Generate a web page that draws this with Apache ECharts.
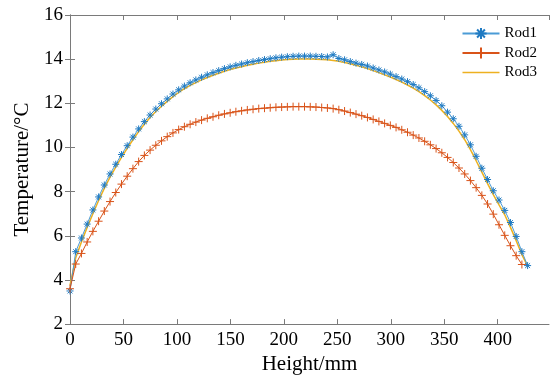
<!DOCTYPE html>
<html>
<head>
<meta charset="utf-8">
<script src="https://cdn.jsdelivr.net/npm/echarts@6/dist/echarts.min.js"></script>
<style>
  html, body { margin: 0; padding: 0; background: #fff; }
  #chart { width: 552px; height: 380px; }
</style>
</head>
<body>
<div id="chart"></div>
<script>
// Measurement heights along the rod (mm)
const heights = [
  0, 5.35, 10.7, 16.05, 21.4, 26.75, 32.1, 37.45, 42.8, 48.15,
  53.5, 58.85, 64.2, 69.55, 74.9, 80.25, 85.6, 90.95, 96.3, 101.65,
  107, 112.35, 117.7, 123.05, 128.4, 133.75, 139.1, 144.45, 149.8, 155.15,
  160.5, 165.85, 171.2, 176.55, 181.9, 187.25, 192.6, 197.95, 203.3, 208.65,
  214, 219.35, 224.7, 230.05, 235.4, 240.75, 246.1, 251.45, 256.8, 262.15,
  267.5, 272.85, 278.2, 283.55, 288.9, 294.25, 299.6, 304.95, 310.3, 315.65,
  321, 326.35, 331.7, 337.05, 342.4, 347.75, 353.1, 358.45, 363.8, 369.15,
  374.5, 379.85, 385.2, 390.55, 395.9, 401.25, 406.6, 411.95, 417.3, 422.65,
  428
];

// Temperatures (°C)
const rod1 = [
  3.5, 5.28, 5.9, 6.53, 7.17, 7.76, 8.3, 8.8, 9.24, 9.68,
  10.08, 10.47, 10.84, 11.17, 11.47, 11.74, 11.98, 12.2, 12.42, 12.61,
  12.78, 12.93, 13.06, 13.18, 13.29, 13.39, 13.48, 13.57, 13.65, 13.72,
  13.78, 13.84, 13.89, 13.94, 13.98, 14.02, 14.06, 14.09, 14.11, 14.13,
  14.14, 14.14, 14.14, 14.13, 14.12, 14.1, 14.2, 14.03, 13.97, 13.89,
  13.82, 13.76, 13.69, 13.6, 13.51, 13.42, 13.32, 13.21, 13.1, 12.98,
  12.85, 12.7, 12.53, 12.34, 12.13, 11.89, 11.6, 11.3, 10.96, 10.57,
  10.12, 9.6, 9.06, 8.55, 8.04, 7.62, 7.15, 6.6, 5.97, 5.28,
  4.65
];

const rod2 = [
  3.6, 4.72, 5.2, 5.72, 6.2, 6.66, 7.12, 7.55, 7.96, 8.34,
  8.7, 9.04, 9.36, 9.64, 9.88, 10.1, 10.3, 10.49, 10.66, 10.81,
  10.94, 11.05, 11.15, 11.24, 11.32, 11.39, 11.46, 11.52, 11.57, 11.62,
  11.66, 11.7, 11.73, 11.76, 11.78, 11.8, 11.82, 11.83, 11.84, 11.85,
  11.85, 11.85, 11.84, 11.83, 11.81, 11.79, 11.76, 11.71, 11.65, 11.58,
  11.51, 11.44, 11.36, 11.27, 11.18, 11.09, 11.0, 10.91, 10.8, 10.69,
  10.56, 10.43, 10.28, 10.12, 9.95, 9.76, 9.55, 9.32, 9.07, 8.8,
  8.5, 8.18, 7.83, 7.44, 6.98, 6.5, 6.02, 5.55, 5.1, 4.7
];

const rod3 = [
  3.75, 5.0, 5.72, 6.38, 7.0, 7.6, 8.15, 8.66, 9.11, 9.55,
  9.96, 10.35, 10.72, 11.05, 11.36, 11.63, 11.87, 12.09, 12.3, 12.49,
  12.66, 12.81, 12.94, 13.06, 13.17, 13.27, 13.36, 13.45, 13.53, 13.6,
  13.66, 13.72, 13.77, 13.82, 13.86, 13.9, 13.93, 13.96, 13.98, 14.0,
  14.01, 14.01, 14.01, 14.0, 13.99, 13.97, 13.94, 13.9, 13.85, 13.79,
  13.72, 13.65, 13.57, 13.48, 13.39, 13.29, 13.19, 13.08, 12.96, 12.83,
  12.69, 12.53, 12.35, 12.15, 11.93, 11.68, 11.4, 11.09, 10.74, 10.35,
  9.9, 9.4, 8.88, 8.36, 7.86, 7.4, 6.95, 6.38, 5.78, 5.15,
  4.62
];

const seriesNames = ['Rod1', 'Rod2', 'Rod3'];

function pairs(values) {
  return values.map((t, i) => [heights[i], t]);
}

// Marker outlines, drawn as stroked paths
const asterisk = 'path://M5 0L5 10M0 5L10 5M1.5 1.5L8.5 8.5M1.5 8.5L8.5 1.5';
const plus = 'path://M5 0L5 10M0 5L10 5';
// Thin bar used as the legend key of the plain line
const thinBar = 'path://M0 0L40 0L40 1.6L0 1.6Z';

const font = '"Liberation Serif", "Times New Roman", serif';
const axisGray = '#7a7a7a';

const frameAxis = (extra) => Object.assign({
  type: 'value',
  axisLine: { show: true, lineStyle: { color: axisGray, width: 1 } },
  axisTick: { show: true, inside: true, length: 5, lineStyle: { color: axisGray } },
  splitLine: { show: false },
}, extra);

const chart = echarts.init(document.getElementById('chart'), null, { renderer: 'canvas' });
chart.setOption({
  animation: false,
  backgroundColor: '#fff',
  grid: { left: 70, right: 3, top: 15, bottom: 53, containLabel: false },
  legend: {
    data: [seriesNames[0], seriesNames[1], { name: seriesNames[2], icon: thinBar }],
    orient: 'vertical',
    right: 15,
    top: 26,
    padding: 0,
    itemWidth: 37,
    itemHeight: 14,
    itemGap: 4.5,
    symbolKeepAspect: true,
    textStyle: { fontFamily: font, fontSize: 15, color: '#000' },
  },
  xAxis: [
    frameAxis({
      position: 'bottom', min: 0, max: 448, interval: 50,
      name: 'Height/mm', nameLocation: 'middle', nameGap: 28,
      nameTextStyle: { fontFamily: font, fontSize: 21, color: '#000' },
      axisLabel: { show: true, fontFamily: font, fontSize: 19, color: '#000', margin: 6, showMaxLabel: false },
    }),
    frameAxis({
      position: 'top', min: 0, max: 448, interval: 50,
      axisLabel: { show: false },
    }),
  ],
  yAxis: [
    frameAxis({
      position: 'left', min: 2, max: 16, interval: 2,
      name: 'Temperature/°C', nameLocation: 'middle', nameGap: 36,
      nameTextStyle: { fontFamily: font, fontSize: 21, color: '#000' },
      axisLabel: { show: true, fontFamily: font, fontSize: 19, color: '#000', margin: 7 },
    }),
    frameAxis({
      position: 'right', min: 2, max: 16, interval: 2,
      axisLabel: { show: false },
    }),
  ],
  series: [
    {
      name: 'Rod1', type: 'line', data: pairs(rod1),
      color: '#2a82c6',
      symbol: asterisk, symbolSize: 7,
      lineStyle: { color: '#4b9bd6', width: 1 },
      itemStyle: { color: 'rgba(0,0,0,0)', borderColor: '#1f7ac2', borderWidth: 1 },
      z: 3,
    },
    {
      name: 'Rod2', type: 'line', data: pairs(rod2),
      color: '#d95319',
      symbol: plus, symbolSize: 8,
      lineStyle: { color: '#d95319', width: 1 },
      itemStyle: { color: 'rgba(0,0,0,0)', borderColor: '#d95319', borderWidth: 1 },
      z: 3,
    },
    {
      name: 'Rod3', type: 'line', data: pairs(rod3),
      color: '#edb120',
      symbol: 'none',
      lineStyle: { color: '#edb120', width: 1.5 },
      itemStyle: { color: '#edb120' },
      z: 2,
    },
  ],
});
</script>
</body>
</html>
